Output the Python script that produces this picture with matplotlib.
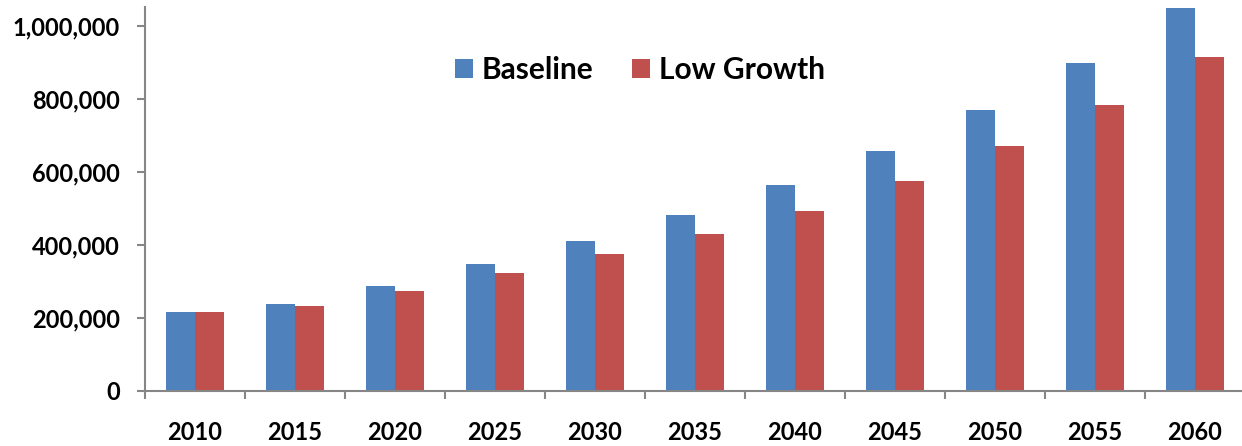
import matplotlib.pyplot as plt
import numpy as np
from matplotlib.ticker import FuncFormatter

years = ["2010", "2015", "2020", "2025", "2030", "2035", "2040", "2045", "2050", "2055", "2060"]
baseline = [216000, 237000, 287000, 346000, 411000, 482000, 564000, 658000, 769000, 899000, 1048000]
low_growth = [216000, 231000, 274000, 323000, 375000, 430000, 491000, 574000, 670000, 784000, 914000]

plt.rcParams['font.family'] = ['Lato', 'DejaVu Sans']
plt.rcParams['font.weight'] = 'bold'

fig = plt.figure(figsize=(12.42, 4.46), dpi=100)
ax = fig.add_axes([145 / 1242, 55.3 / 446, 1100 / 1242, 384 / 446])

x = np.arange(len(years))
w = 0.286
ax.bar(x - w / 2, baseline, w, color="#4f81bd", label="Baseline")
ax.bar(x + w / 2, low_growth, w, color="#c0504d", label="Low Growth")

ax.set_xlim(-0.5, len(years) - 0.5)
ax.set_ylim(0, 1052000)
ax.set_yticks(range(0, 1000001, 200000))
ax.yaxis.set_major_formatter(FuncFormatter(lambda v, p: f"{int(v):,}"))

# years centred under groups, tick marks between groups
ax.set_xticks(x)
ax.set_xticklabels(years, fontweight="bold")
ax.set_xticks(np.arange(-0.5, len(years), 1.0), minor=True)
ax.tick_params(axis="x", which="major", length=0, pad=22, labelsize=17)
ax.tick_params(axis="x", which="minor", length=6, width=1.5, color="#868686", direction="out")
ax.tick_params(axis="y", length=6, width=1.5, color="#868686", labelsize=17, pad=12)

for s in ["top", "right"]:
    ax.spines[s].set_visible(False)
for s in ["left", "bottom"]:
    ax.spines[s].set_color("#868686")
    ax.spines[s].set_linewidth(1.5)

leg = fig.legend(loc="center", bbox_to_anchor=(640 / 1242, 1 - 70 / 446), ncol=2, frameon=False,
                 prop={"size": 21.5, "weight": "bold"}, handlelength=0.6, handleheight=0.6,
                 handletextpad=0.3, columnspacing=1.3)

fig.savefig("out.png", dpi=100)
